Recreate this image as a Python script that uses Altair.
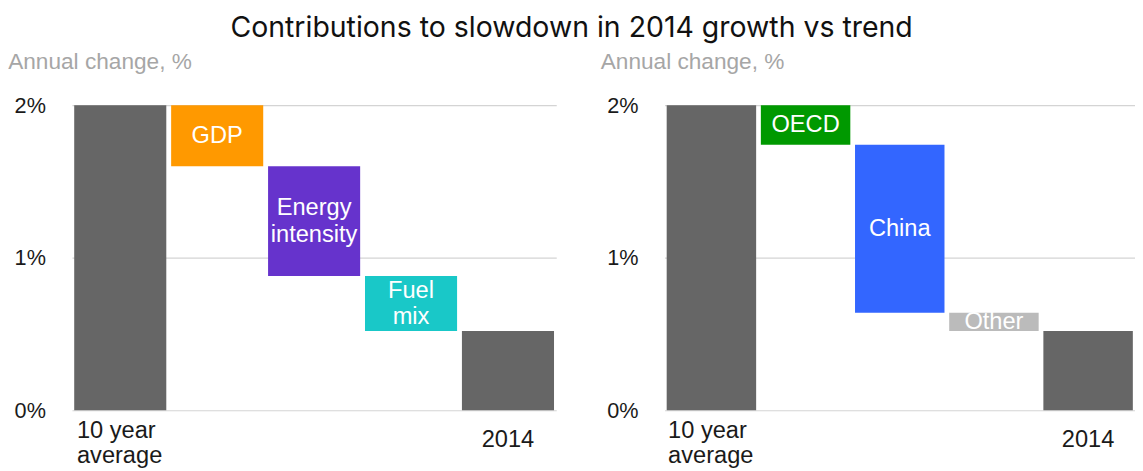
import altair as alt
import pandas as pd

# ---- data ----
title_text = "Contributions to slowdown in 2014 growth vs trend"
panel_title = "Annual change, %"

left_categories = ["10 year average", "GDP", "Energy intensity", "Fuel mix", "2014"]
left_changes = [2.0, -0.40, -0.72, -0.36]          # start level, then contributions
left_bar_text = ["", "GDP", "Energy|intensity", "Fuel|mix", ""]
left_palette = ["#666666", "#ff9900", "#6633cc", "#19c8c8", "#666666"]

right_categories = ["10 year average", "OECD", "China", "Other", "2014"]
right_changes = [2.0, -0.26, -1.10, -0.12]
right_bar_text = ["", "OECD", "China", "Other", ""]
right_palette = ["#666666", "#009900", "#3366ff", "#bbbbbb", "#666666"]

y_ticks = [0, 1, 2]


def waterfall_table(categories, changes, texts):
    rows = []
    level = 0.0
    for i, cat in enumerate(categories):
        if i == 0:
            start, end = 0.0, changes[0]
            level = end
        elif i < len(categories) - 1:
            start, end = level, level + changes[i]
            level = end
        else:
            start, end = 0.0, level
        rows.append({"cat": cat, "start": start, "end": end, "txt": texts[i]})
    return pd.DataFrame(rows)


FONT = "Liberation Sans"
FIRST = "datum.value == '10 year average'"


def panel(categories, changes, texts, palette, width):
    df = waterfall_table(categories, changes, texts)
    base = alt.Chart(df)
    x = alt.X(
        "cat:N",
        sort=categories,
        scale=alt.Scale(paddingInner=0.05, paddingOuter=0.023),
        axis=alt.Axis(
            title=None,
            labelExpr="datum.value == '10 year average' ? ['10 year', 'average'] : (datum.value == '2014' ? '2014' : '')",
            labelAngle=0,
            labelAlign={"condition": {"test": FIRST, "value": "left"}, "value": "center"},
            labelOffset={"condition": {"test": FIRST, "value": -44}, "value": 0},
            labelBaseline="middle",
            labelPadding={"condition": {"test": FIRST, "value": 21}, "value": 30},
            labelLineHeight=25,
            labelFontSize=24,
            labelFont=FONT,
            labelColor="#1a1a1a",
            ticks=False,
            tickSize=0,
            domain=False,
            grid=False,
        ),
    )
    bars = base.mark_bar().encode(
        x=x,
        y=alt.Y(
            "start:Q",
            scale=alt.Scale(domain=[0, 2], nice=False),
            axis=alt.Axis(
                title=None,
                values=y_ticks,
                labelExpr="datum.value + '%'",
                labelFontSize=22,
                labelFont=FONT,
                labelColor="#1a1a1a",
                labelPadding=27,
                ticks=False,
                domain=False,
                grid=True,
                gridColor="#d4d4d4",
                gridWidth=1.2,
            ),
        ),
        y2="end:Q",
        color=alt.Color("cat:N", scale=alt.Scale(domain=categories, range=palette), legend=None),
    )
    mid_base = base.transform_filter("datum.txt != ''").transform_calculate(
        mid="(datum.start + datum.end) / 2", lines="split(datum.txt, '|')"
    )
    single = (
        mid_base.transform_filter("indexof(datum.txt, '|') < 0")
        .mark_text(color="white", fontSize=24, font=FONT, baseline="middle")
        .encode(x=alt.X("cat:N", sort=categories), y=alt.Y("mid:Q"), text="txt:N")
    )
    multi = (
        mid_base.transform_filter("indexof(datum.txt, '|') >= 0")
        .mark_text(color="white", fontSize=24, font=FONT, baseline="middle", lineHeight=27, dy=-13)
        .encode(x=alt.X("cat:N", sort=categories), y=alt.Y("mid:Q"), text="lines:N")
    )
    return alt.layer(bars, single, multi).properties(
        width=width,
        height=310,
        title=alt.TitleParams(
            panel_title,
            anchor="start",
            frame="bounds",
            color="#a6a6a6",
            fontSize=23,
            font=FONT,
            fontWeight="normal",
            offset=21,
            dx=-6,
        ),
    )


left = panel(left_categories, left_changes, left_bar_text, left_palette, 492)
right = panel(right_categories, right_changes, right_bar_text, right_palette, 478)

chart = (
    alt.hconcat(left, right, spacing=45)
    .resolve_scale(color="independent", x="independent")
    .properties(
        title=alt.TitleParams(
            title_text,
            anchor="middle",
            fontSize=28.9,
            font="Inter",
            fontWeight="normal",
            color="#111111",
            offset=8,
        ),
        padding={"left": 0, "top": 3, "right": 0, "bottom": 0},
    )
    .configure_view(stroke=None)
)

chart.save("out.html", embed_options={"renderer": "svg", "actions": False})
